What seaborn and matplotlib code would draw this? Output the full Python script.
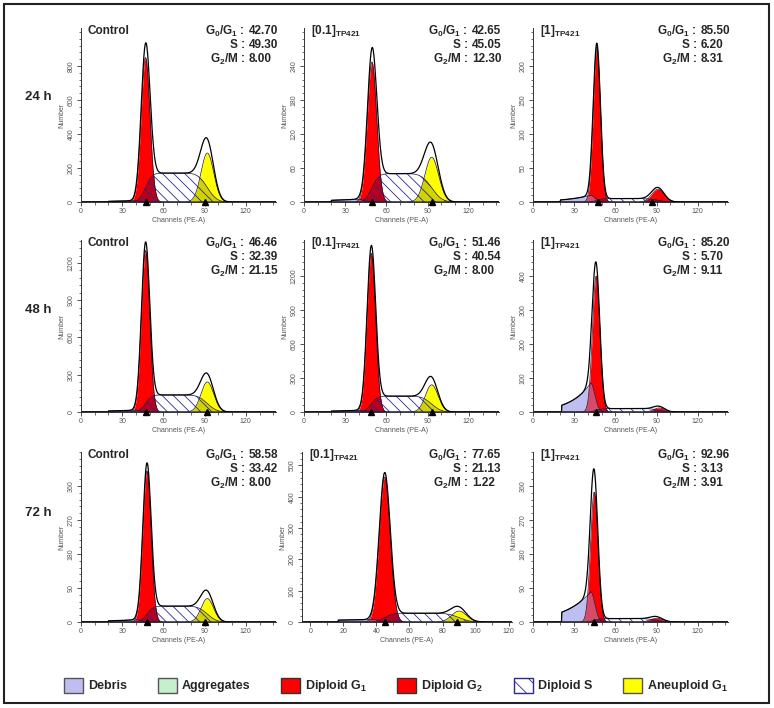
import math

import numpy as np
import pandas as pd
import seaborn as sns
import matplotlib.pyplot as plt
import matplotlib.patches as mpatches
from matplotlib.ticker import MultipleLocator, AutoMinorLocator

sns.set_style('ticks')
plt.rcParams['font.family'] = ['Liberation Sans', 'DejaVu Sans']
plt.rcParams['mathtext.fontset'] = 'custom'
plt.rcParams['mathtext.rm'] = 'Liberation Sans'
plt.rcParams['mathtext.bf'] = 'Liberation Sans:bold'
plt.rcParams['mathtext.default'] = 'bf'
plt.rcParams['hatch.linewidth'] = 0.6

W, H = 774, 708

row_labels = ['24 h', '48 h', '72 h']
panel_titles = ['Control', '[0.1]$_{TP421}$', '[1]$_{TP421}$'] * 3
g0g1 = [42.70, 42.65, 85.50, 46.46, 51.46, 85.20, 58.58, 77.65, 92.96]
s_phase = [49.30, 45.05, 6.20, 32.39, 40.54, 5.70, 33.42, 21.13, 3.13]
g2m = [8.00, 12.30, 8.31, 21.15, 8.00, 9.11, 8.00, 1.22, 3.91]

# axis ranges (panels row by row)
y_max = [1024, 307, 256, 1385, 1518, 506, 450, 543, 450]
y_step = [200, 60, 50, 300, 300, 100, 90, 100, 90]
y_label_top = [800, 240, 200, 1200, 1200, 400, 360, 500, 360]
x_min = [0, 0, 0, 0, 0, 0, 0, -5, 0]
x_max = [142, 142, 142, 142, 142, 142, 142, 122, 142]
x_step = [30, 30, 30, 30, 30, 30, 30, 20, 30]

# fitted components
g1_pos = [47, 49.5, 46.5, 47, 49, 46, 48, 45, 44.6]
g1_height = [850, 247, 228, 1300, 1400, 400, 400, 463, 344]
g1_sd = [3.2, 3.4, 2.6, 3.0, 3.1, 2.7, 3.0, 3.3, 2.7]
g2_pos = [92, 93, 91, 92, 93, 92, 92, 90, 90]
g2_height = [288, 79, 19, 242, 240, 12, 62, 35, 10]
g2_sd = [4.6, 5.0, 4.5, 4.6, 4.6, 4.0, 4.5, 4.5, 4.5]
g2_kind = ['aneuploid', 'aneuploid', 'diploid', 'aneuploid', 'aneuploid',
           'diploid', 'aneuploid', 'aneuploid', 'diploid']
s_height = [170, 50, 5, 137, 140, 10, 42, 28, 9]
debris_start = [20, 20, 20, 20, 20, 21, 20, 17, 21]
debris_start_h = [4, 3, 3, 8, 8, 20, 3, 6, 26]
debris_peak = [40, 40, 42, 40, 40, 42, 40, 38, 42]
debris_peak_h = [8, 5, 10, 15, 15, 85, 6, 8, 80]
marker_pos = [[47, 90], [49.5, 93.5], [47, 87], [47, 92], [49, 93], [46],
              [48, 90], [45, 89], [44.6]]

col_left = [81, 304, 533]
row_top = [28, 240, 452]
row_zero = [202, 412, 622]
row_label_y = [97, 310, 513]

colors = {
    'debris': '#bebef0',
    'aggregates': '#c4f0cc',
    'diploid': '#ff0000',
    'aneuploid': '#ffff00',
    'hatch': '#2a2a96',
}

erf = np.vectorize(math.erf)


def gauss(x, mu, h, sd):
    return h * np.exp(-0.5 * ((x - mu) / sd) ** 2)


def s_curve(x, h, lo, lo_sd, hi, hi_sd):
    return h * 0.5 * (erf((x - lo) / (math.sqrt(2) * lo_sd)) - erf((x - hi) / (math.sqrt(2) * hi_sd)))


def debris_curve(x, start, h0, peak, hp):
    rise = h0 * (hp / h0) ** ((x - start) / (peak - start))
    tail = hp * np.exp(-0.5 * ((x - peak) / 3.0) ** 2)
    y = np.where(x < peak, rise, tail)
    return np.where(x < start, 0, y)


def fx(px):
    return px / W


def fy(py):
    return 1 - py / H


fig = plt.figure(figsize=(W / 100, H / 100), dpi=100)

for i in range(9):
    r, c = divmod(i, 3)
    left = col_left[c]
    width = 195
    if i == 7:
        left, width = 302, 210
    top, zero = row_top[r], row_zero[r]
    ax = fig.add_axes([fx(left), fy(zero), fx(width), (zero - top) / H])

    x = np.arange(x_min[i], x_max[i] + 0.01, 0.25)
    g1 = gauss(x, g1_pos[i], g1_height[i], g1_sd[i])
    g2 = gauss(x, g2_pos[i], g2_height[i], g2_sd[i])
    s = s_curve(x, s_height[i], g1_pos[i], g1_sd[i] * 1.2, g2_pos[i], g2_sd[i] * 1.2)
    deb = debris_curve(x, debris_start[i], debris_start_h[i], debris_peak[i], debris_peak_h[i])
    df = pd.DataFrame({'channel': x, 'total': g1 + g2 + s + deb})

    g2_col = colors[g2_kind[i]]
    ax.fill_between(x, 0, deb, color=colors['debris'], lw=0)
    ax.fill_between(x, 0, g2, color=g2_col, lw=0)
    ax.fill_between(x, 0, g1, color=colors['diploid'], lw=0)
    ax.fill_between(x, 0, np.minimum(deb, g1), color='#d64a6a', lw=0)
    ax.fill_between(x, 0, np.minimum(s, g1), color='#b8001c', lw=0)
    ax.fill_between(x, 0, np.minimum(s, g2),
                    color='#d2d200' if g2_kind[i] == 'aneuploid' else '#b8001c', lw=0)
    ax.fill_between(x, 0, s, facecolor='none', edgecolor=colors['hatch'],
                    hatch='\\\\\\', lw=0)
    for comp in (deb, g1, g2, s):
        ax.plot(x, comp, color='#1a1a40', lw=0.5)
    sns.lineplot(data=df, x='channel', y='total', color='black', lw=0.9,
                 ax=ax, errorbar=None, sort=False)
    ax.plot(marker_pos[i], [0] * len(marker_pos[i]), '^', color='black',
            ms=5, clip_on=False, zorder=6)

    ax.set_xlim(x_min[i], x_max[i])
    ax.set_ylim(0, y_max[i])
    ax.set_xticks(np.arange(0, 121, x_step[i]))
    ax.xaxis.set_minor_locator(AutoMinorLocator(3 if x_step[i] == 30 else 2))
    ax.set_yticks(np.arange(0, y_label_top[i] + 1, y_step[i]))
    ax.yaxis.set_minor_locator(AutoMinorLocator(5))
    ax.tick_params(labelsize=5, colors='#333', labelcolor='#555', length=3, width=0.6, pad=1.5)
    ax.tick_params(which='minor', length=1.8, width=0.5, colors='#333')
    for lab in ax.get_yticklabels():
        lab.set_rotation(90)
        lab.set_va('center')
    ax.set_xlabel('Channels (PE-A)', fontsize=5, color='#555', labelpad=1)
    ax.set_ylabel('Number', fontsize=5, color='#555', labelpad=2)
    sns.despine(ax=ax)
    for sp in ('left', 'bottom'):
        ax.spines[sp].set_color('#333')
        ax.spines[sp].set_linewidth(0.7)

    ty = top + 3
    fig.text(fx(left + 7), fy(ty), panel_titles[i], fontsize=8.5,
             fontweight='bold', va='center', ha='left')
    colon_x = left + 164 if i != 7 else left + 166
    stats = [('G$_0$/G$_1$ :', g0g1[i]), ('S :', s_phase[i]), ('G$_2$/M :', g2m[i])]
    for k, (lab, val) in enumerate(stats):
        yy = ty + 14 * k
        fig.text(fx(colon_x), fy(yy), lab, fontsize=8.5, fontweight='bold',
                 va='center', ha='right')
        fig.text(fx(colon_x + 4), fy(yy), f'{val:.2f}', fontsize=8.5,
                 fontweight='bold', va='center', ha='left')

for r in range(3):
    fig.text(fx(25), fy(row_label_y[r]), row_labels[r], fontsize=9.5,
             fontweight='bold', va='center', ha='left')

legend_patches = [
    mpatches.Patch(facecolor=colors['debris'], edgecolor='#555', label='Debris'),
    mpatches.Patch(facecolor=colors['aggregates'], edgecolor='#555', label='Aggregates'),
    mpatches.Patch(facecolor=colors['diploid'], edgecolor='#333', label='Diploid G$_1$'),
    mpatches.Patch(facecolor=colors['diploid'], edgecolor='#333', label='Diploid G$_2$'),
    mpatches.Patch(facecolor='white', edgecolor=colors['hatch'], hatch='\\\\', label='Diploid S'),
    mpatches.Patch(facecolor=colors['aneuploid'], edgecolor='#555', label='Aneuploid G$_1$'),
]
fig.legend(handles=legend_patches, loc='center', bbox_to_anchor=(0.5 + 9 / W, fy(686)),
           ncol=6, frameon=False, prop={'weight': 'bold', 'size': 9},
           handlelength=1.5, handleheight=1.5, handletextpad=0.4, columnspacing=2.45)

fig.add_artist(mpatches.Rectangle((fx(4), fy(703)), fx(765), (699) / H,
                                  transform=fig.transFigure, fill=False,
                                  edgecolor='#222', lw=1.5))

fig.savefig('out.png', dpi=100)
